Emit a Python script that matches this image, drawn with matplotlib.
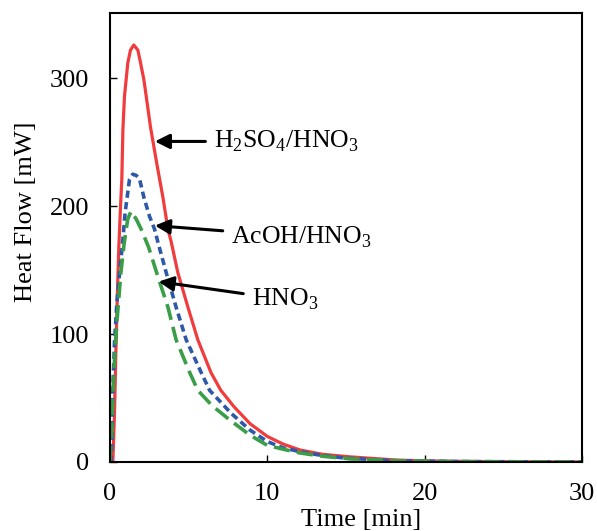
import matplotlib.pyplot as plt

plt.rcParams['font.family'] = ['Liberation Serif', 'DejaVu Serif']
plt.rcParams['mathtext.fontset'] = 'custom'
plt.rcParams['mathtext.rm'] = 'Liberation Serif'

# H2SO4/HNO3 (red)
t_h2so4 = [0, 0.19, 0.3, 0.4, 0.5, 0.57, 0.68, 0.76, 0.83, 0.93, 1.14, 1.31, 1.52,
           1.78, 1.95, 2.16, 2.31, 2.58, 3.0, 3.37, 3.69, 3.9, 4.32, 4.96, 5.59,
           6.42, 7.05, 7.9, 8.9, 10, 11, 12.07, 13.5, 15.25, 18.2, 21, 25, 30]
q_h2so4 = [0, 0, 40, 95, 140, 168, 200, 221, 260, 286, 312, 322, 326,
           322, 312, 299, 286, 262, 232, 207, 182, 172, 148, 121, 95.5,
           70, 56, 43, 30, 20, 14, 9.4, 6, 4, 1.5, 0.6, 0.2, 0]

# AcOH/HNO3 (blue)
t_acoh = [0, 0.06, 0.13, 0.19, 0.3, 0.45, 0.62, 0.83, 0.97, 1.1, 1.25, 1.46, 1.68,
          1.89, 2.16, 2.52, 2.84, 3.05, 3.58, 4.21, 4.85, 5.8, 6.34, 7.71, 8.9,
          10, 11, 12.1, 13.5, 15, 18, 22, 30]
q_acoh = [0, 0, 17, 56, 95, 125, 148, 174, 195, 207, 221, 225, 224,
          221, 207, 192, 182, 172, 148, 121, 95.5, 70, 56, 38, 25,
          16, 11, 8, 5, 3, 1, 0.3, 0]

# HNO3 (green)
t_hno3 = [0, 0.1, 0.25, 0.45, 0.7, 0.9, 1.04, 1.14, 1.35, 1.67, 1.99, 2.46, 3.05,
          3.69, 4.21, 5.07, 5.59, 6.5, 7.6, 8.9, 10, 11, 12.1, 13.5, 15.25, 18,
          22, 30]
q_hno3 = [0, 20, 70, 110, 148, 170, 182, 190, 196, 190, 182, 168, 145,
          121, 95.5, 70, 56, 44, 33, 21, 13, 10, 7, 4.5, 2.5, 1,
          0.3, 0]

fig = plt.figure(figsize=(5.97, 5.31), dpi=100)
ax = fig.add_axes([0.184, 0.130, 0.791, 0.8455])

ax.plot(t_h2so4, q_h2so4, color='#F03C3C', lw=2.3)
ax.plot(t_acoh, q_acoh, color='#2E59A8', lw=2.6, dashes=(2.0, 1.2))
ax.plot(t_hno3, q_hno3, color='#3A9D48', lw=2.6, dashes=(4.5, 2.0))

arrow = dict(arrowstyle='-|>', color='black', lw=2.2, mutation_scale=22, shrinkA=4, shrinkB=0)
ax.annotate(r'H$_2$SO$_4$/HNO$_3$', xy=(2.86, 250.6), xytext=(6.6, 250.6),
            ha='left', va='center', fontsize=18.5, arrowprops=arrow)
ax.annotate(r'AcOH/HNO$_3$', xy=(2.86, 184.8), xytext=(7.7, 176),
            ha='left', va='center', fontsize=18.5, arrowprops=arrow)
ax.annotate(r'HNO$_3$', xy=(3.1, 141), xytext=(9.0, 127),
            ha='left', va='center', fontsize=18.5, arrowprops=arrow)

ax.set_xlim(0, 30)
ax.set_ylim(0, 351)
ax.set_xticks([0, 10, 20, 30])
ax.set_yticks([0, 100, 200, 300])
ax.tick_params(direction='in', length=5, width=1, labelsize=19, pad=15,
               top=False, right=False)
for s in ax.spines.values():
    s.set_linewidth(1.5)

ax.set_xlabel('Time [min]', fontsize=19)
ax.set_ylabel('Heat Flow [mW]', fontsize=19)
ax.xaxis.set_label_coords(0.532, -0.105)
ax.yaxis.set_label_coords(-0.155, 0.557)

fig.savefig('out.png', dpi=100)
